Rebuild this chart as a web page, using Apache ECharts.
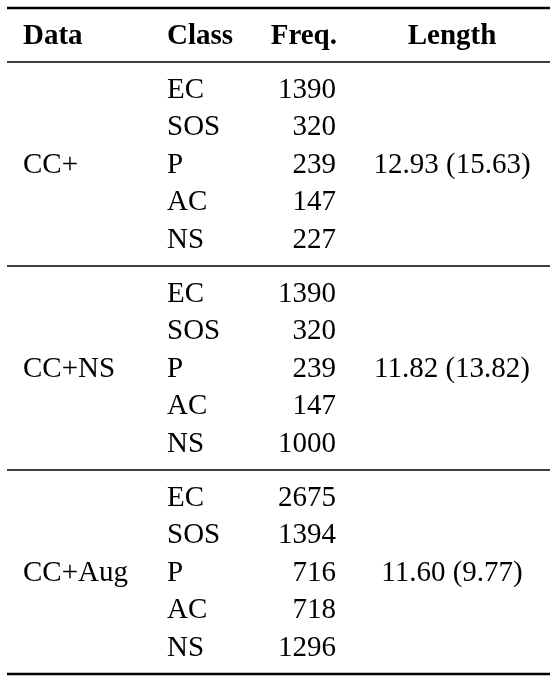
<!DOCTYPE html>
<html><head><meta charset="utf-8">
<script src="https://cdn.jsdelivr.net/npm/echarts@6/dist/echarts.min.js"></script>
<style>html,body{margin:0;padding:0;background:#fff}#c{width:555px;height:677px}</style>
</head><body><div id="c"></div>
<script>
const headers = ["Data", "Class", "Freq.", "Length"];
const datasets = ["CC+", "CC+NS", "CC+Aug"];
const classes = ["EC", "SOS", "P", "AC", "NS"];
const freqCCplus = [1390, 320, 239, 147, 227];
const freqCCNS = [1390, 320, 239, 147, 1000];
const freqCCAug = [2675, 1394, 716, 718, 1296];
const lengths = ["12.93 (15.63)", "11.82 (13.82)", "11.60 (9.77)"];
const freqs = [freqCCplus, freqCCNS, freqCCAug];

const chart = echarts.init(document.getElementById('c'));
const font = '"Liberation Serif", "Times New Roman", serif';
const fs = 29;
const L = 7, R = 550;
const rowH = 37.5;
const g = [];
function txt(x, y, s, align, bold) {
  g.push({type:'text', x:x, y:y, style:{text:String(s), font:(bold?'bold ':'')+fs+'px '+font, fill:'#000', align:align, verticalAlign:'middle'}});
}
function rule(y, w) {
  g.push({type:'line', shape:{x1:L, y1:y, x2:R, y2:y}, style:{stroke:'#000', lineWidth:w}});
}
const colX = {data:23, cls:167, freq:336, len:452};
rule(8, 2.5);
txt(colX.data, 37, headers[0], 'left', true);
txt(colX.cls, 37, headers[1], 'left', true);
txt(colX.freq + 1, 37, headers[2], 'right', true);
txt(colX.len, 37, headers[3], 'center', true);
let r0 = 62;
rule(r0, 1.5);
datasets.forEach((d, i) => {
  const y0 = r0 + 28;
  classes.forEach((c, j) => {
    const y = y0 + j * rowH;
    txt(colX.cls, y, c, 'left');
    txt(colX.freq, y, freqs[i][j], 'right');
  });
  const mid = y0 + 2 * rowH;
  txt(colX.data, mid, d, 'left');
  txt(colX.len, mid, lengths[i], 'center');
  r0 += 204;
  rule(r0, i === datasets.length - 1 ? 2.5 : 1.5);
});
chart.setOption({graphic: g});
</script></body></html>
